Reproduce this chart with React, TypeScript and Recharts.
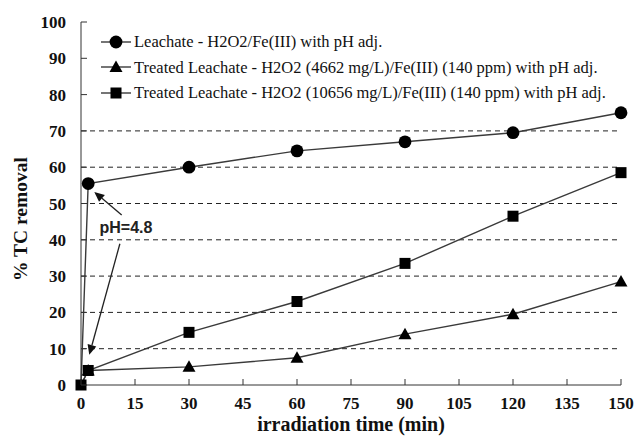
import React from 'react'
import { LineChart, Line, XAxis, YAxis, ReferenceLine, ReferenceDot } from 'recharts'

// irradiation time (min)
const times = [0, 2, 30, 60, 90, 120, 150]
// % TC removal
const leachate = [0, 55.5, 60, 64.5, 67, 69.5, 75]
const treated4662 = [0, 4, 5, 7.5, 14, 19.5, 28.5]
const treated10656 = [0, 4, 14.5, 23, 33.5, 46.5, 58.5]

const seriesNames = [
  'Leachate - H2O2/Fe(III) with pH adj.',
  'Treated Leachate - H2O2 (4662 mg/L)/Fe(III) (140 ppm) with pH adj.',
  'Treated Leachate - H2O2 (10656 mg/L)/Fe(III) (140 ppm) with pH adj.'
]
const seriesKeys = ['leachate', 'treated4662', 'treated10656']
const markers = ['circle', 'triangle', 'square']

const xTicks = [0, 15, 30, 45, 60, 75, 90, 105, 120, 135, 150]
const yTicks = [0, 10, 20, 30, 40, 50, 60, 70, 80, 90, 100]
const gridValues = [10, 20, 30, 40, 50, 60, 70]

// pH=4.8 annotation (data coords)
const noteLabel = 'pH=4.8'
const notePos = { x: 12.5, y: 43.3 }
const noteArrows = [
  [{ x: 11.3, y: 46.8 }, { x: 3.7, y: 53.2 }],
  [{ x: 10.8, y: 38.9 }, { x: 2.3, y: 8.3 }]
]

const data = times.map((t, i) => ({
  t,
  leachate: leachate[i],
  treated4662: treated4662[i],
  treated10656: treated10656[i]
}))

const serif = '"Liberation Serif", "Times New Roman", serif'
const lineColor = '#3a3a3a'

function Marker({ kind, cx, cy }: { kind: string; cx: number; cy: number }) {
  if (kind === 'circle') return <circle cx={cx} cy={cy} r={6.4} fill="#000" />
  if (kind === 'triangle')
    return <polygon points={`${cx},${cy - 6.5} ${cx + 6.5},${cy + 5} ${cx - 6.5},${cy + 5}`} fill="#000" />
  return <rect x={cx - 5.5} y={cy - 5.5} width={11} height={11} fill="#000" />
}

const makeDot = (kind: string, skipFirst: boolean) => (p: any) => {
  if (skipFirst && p.index === 0) return <g key={p.key ?? `d${p.index}`} />
  return (
    <g key={p.key ?? `d${p.index}`}>
      <Marker kind={kind} cx={p.cx} cy={p.cy} />
    </g>
  )
}

const LeftTick = (p: any) => (
  <g>
    <line x1={p.x} y1={p.y} x2={p.x + 6} y2={p.y} stroke="#333" />
    <text x={p.x - 15} y={p.y + 6} textAnchor="end" fontFamily={serif} fontWeight="bold" fontSize={17} fill="#111">
      {p.payload.value}
    </text>
  </g>
)

const RightTick = (p: any) => <line x1={p.x - 6} y1={p.y} x2={p.x} y2={p.y} stroke="#333" />

const BottomTick = (p: any) => (
  <g>
    <line x1={p.x} y1={p.y} x2={p.x} y2={p.y - 6} stroke="#333" />
    <text x={p.x} y={p.y + 24} textAnchor="middle" fontFamily={serif} fontWeight="bold" fontSize={17} fill="#111">
      {p.payload.value}
    </text>
  </g>
)

const Arrow = (p: any) => {
  const { x1, y1, x2, y2 } = p
  const a = Math.atan2(y2 - y1, x2 - x1)
  const len = 10
  const w = 4.5
  const bx = x2 - len * Math.cos(a)
  const by = y2 - len * Math.sin(a)
  const px = -Math.sin(a) * w
  const py = Math.cos(a) * w
  return (
    <g>
      <line x1={x1} y1={y1} x2={bx} y2={by} stroke="#222" strokeWidth={1.3} />
      <polygon points={`${x2},${y2} ${bx + px},${by + py} ${bx - px},${by - py}`} fill="#111" />
    </g>
  )
}

const LegendBox = () => (
  <div
    style={{
      position: 'absolute',
      left: 100,
      top: 29,
      fontFamily: serif,
      fontSize: 16.5,
      color: '#111',
      lineHeight: '25.5px'
    }}
  >
    {seriesNames.map((name, i) => (
      <div key={name} style={{ display: 'flex', alignItems: 'center', whiteSpace: 'nowrap', height: 25.5 }}>
        <svg width={32} height={16} style={{ marginRight: 2 }}>
          <line x1={1} y1={8} x2={31} y2={8} stroke={lineColor} strokeWidth={1.4} />
          <Marker kind={markers[i]} cx={16} cy={8} />
        </svg>
        <span>{name}</span>
      </div>
    ))}
  </div>
)

export default function App() {
  return (
    <div style={{ position: 'absolute', left: 0, top: 0, width: 634, height: 436, background: '#fff' }}>
      <LineChart width={634} height={436} data={data} margin={{ top: 22, right: 13, left: 0, bottom: 0 }}>
        <XAxis
          xAxisId="b"
          dataKey="t"
          type="number"
          domain={[0, 150]}
          ticks={xTicks}
          height={51}
          tickSize={0}
          tickMargin={0}
          tickLine={false}
          axisLine={{ stroke: '#333' }}
          tick={BottomTick}
          interval={0}
          label={(props: any) => {
            const vb = props.viewBox
            return (
              <text x={351} y={vb.y + 46} textAnchor="middle" fontFamily={serif} fontWeight="bold" fontSize={20} fill="#111">
                irradiation time (min)
              </text>
            )
          }}
        />
        <XAxis xAxisId="t" orientation="top" type="number" domain={[0, 150]} height={0} tick={false} tickLine={false} axisLine={{ stroke: '#333' }} />
        <YAxis
          yAxisId="l"
          type="number"
          domain={[0, 100]}
          ticks={yTicks}
          width={81}
          tickSize={0}
          tickMargin={0}
          tickLine={false}
          axisLine={{ stroke: '#333' }}
          tick={LeftTick}
          interval={0}
          label={() => (
            <text
              x={20}
              y={219}
              transform="rotate(-90 20 219)"
              textAnchor="middle"
              dominantBaseline="central"
              fontFamily={serif}
              fontWeight="bold"
              fontSize={19.5}
              fill="#111"
            >
              % TC removal
            </text>
          )}
        />
        <YAxis
          yAxisId="r"
          orientation="right"
          type="number"
          domain={[0, 100]}
          ticks={yTicks}
          width={0}
          tickSize={0}
          tickMargin={0}
          tickLine={false}
          axisLine={{ stroke: '#333' }}
          tick={RightTick}
          interval={0}
        />
        {gridValues.map(v => (
          <ReferenceLine key={v} xAxisId="b" yAxisId="l" y={v} stroke="#222" strokeDasharray="5 4" />
        ))}
        {seriesKeys.map((k, i) => (
          <Line
            key={k}
            xAxisId="b"
            yAxisId="l"
            dataKey={k}
            name={seriesNames[i]}
            type="linear"
            stroke={lineColor}
            strokeWidth={1.4}
            dot={makeDot(markers[i], i < 2)}
            activeDot={false}
            isAnimationActive={false}
          />
        ))}
        {noteArrows.map((seg, i) => (
          <ReferenceLine key={i} xAxisId="b" yAxisId="l" segment={seg} shape={Arrow} ifOverflow="visible" />
        ))}
        <ReferenceDot
          xAxisId="b"
          yAxisId="l"
          x={notePos.x}
          y={notePos.y}
          r={0}
          ifOverflow="visible"
          shape={(p: any) => (
            <text x={p.cx} y={p.cy} textAnchor="middle" dominantBaseline="central" fontFamily='"Liberation Sans", Arial, sans-serif' fontWeight="bold" fontSize={16} fill="#222">
              {noteLabel}
            </text>
          )}
        />
      </LineChart>
      <LegendBox />
    </div>
  )
}
